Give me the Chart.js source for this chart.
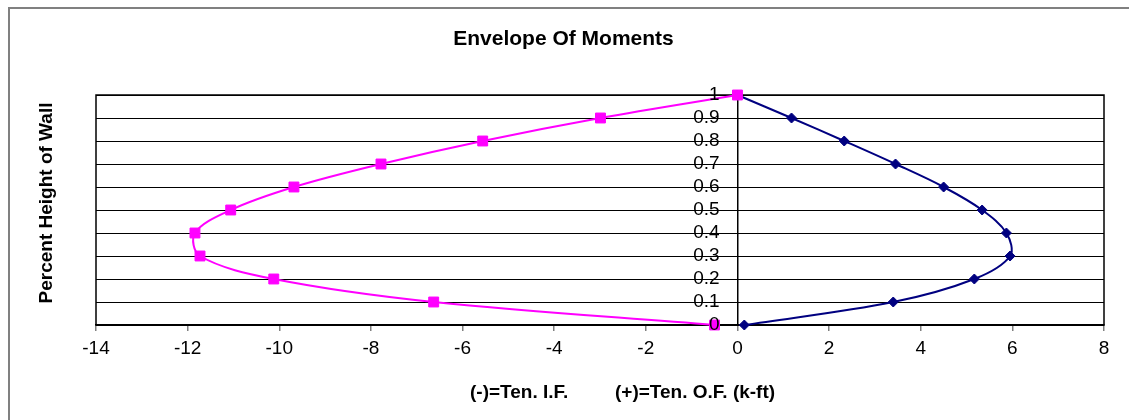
<!DOCTYPE html>
<html>
<head>
<meta charset="utf-8">
<script src="https://cdn.jsdelivr.net/npm/chart.js@4/dist/chart.umd.min.js"></script>
<style>
  html, body { margin: 0; padding: 0; background: #fff; }
  #wrap { width: 1129px; height: 420px; }
</style>
</head>
<body>
<div id="wrap"><canvas id="c" width="1129" height="420"></canvas></div>
<script>
// ---- data ----
const heights = [0, 0.1, 0.2, 0.3, 0.4, 0.5, 0.6, 0.7, 0.8, 0.9, 1];
const tensionInside = [-0.5, -6.63, -10.12, -11.73, -11.84, -11.06, -9.68, -7.78, -5.56, -2.99, 0];
const tensionOutside = [0.15, 3.40, 5.17, 5.95, 5.87, 5.34, 4.50, 3.45, 2.33, 1.18, 0];
const chartTitle = "Envelope Of Moments";
const yTitle = "Percent Height of Wall";
const xTitleLeft = "(-)=Ten. I.F.";
const xTitleRight = "(+)=Ten. O.F. (k-ft)";

const FONT = "'Liberation Sans', Arial, sans-serif";

const decor = {
  id: 'decor',
  beforeDraw(chart) {
    const ctx = chart.ctx;
    ctx.save();
    ctx.strokeStyle = '#808080';
    ctx.lineWidth = 2;
    ctx.beginPath();
    ctx.moveTo(9, 430); ctx.lineTo(9, 8); ctx.lineTo(1140, 8);
    ctx.stroke();
    ctx.restore();
  },
  beforeDatasetsDraw(chart) {
    const ctx = chart.ctx;
    const a = chart.chartArea;
    ctx.save();
    ctx.strokeStyle = '#000';
    ctx.lineWidth = 1.5;
    ctx.strokeRect(a.left, a.top, a.right - a.left, a.bottom - a.top);
    ctx.restore();
  },
  afterDraw(chart) {
    const ctx = chart.ctx;
    ctx.save();
    ctx.fillStyle = '#000';
    ctx.textBaseline = 'alphabetic';
    ctx.font = "bold 21px " + FONT;
    ctx.textAlign = 'center';
    ctx.fillText(chartTitle, 563.5, 45);
    ctx.font = "bold 19px " + FONT;
    ctx.textAlign = 'left';
    ctx.fillText(xTitleLeft, 470, 398);
    ctx.fillText(xTitleRight, 615, 398);
    ctx.translate(52, 203);
    ctx.rotate(-Math.PI / 2);
    ctx.textAlign = 'center';
    ctx.fillText(yTitle, 0, 0);
    ctx.restore();
  }
};

new Chart(document.getElementById('c'), {
  type: 'scatter',
  data: {
    datasets: [
      {
        data: heights.map((h, i) => ({x: tensionInside[i], y: h})),
        borderColor: '#FF00FF',
        backgroundColor: '#FF00FF',
        borderWidth: 2,
        showLine: true,
        tension: 0.35,
        clip: false,
        pointStyle: 'rect',
        pointRadius: 7,
        pointBorderWidth: 1,
        pointHoverRadius: 7
      },
      {
        data: heights.map((h, i) => ({x: tensionOutside[i], y: h})),
        borderColor: '#000080',
        backgroundColor: '#000080',
        borderWidth: 2,
        showLine: true,
        tension: 0.35,
        clip: false,
        pointStyle: 'rectRot',
        pointRadius: 5,
        pointBorderWidth: 1,
        pointHoverRadius: 5
      }
    ]
  },
  options: {
    responsive: false,
    animation: false,
    events: [],
    layout: { padding: { left: 96, right: 25, top: 95, bottom: 0 } },
    plugins: { legend: { display: false }, tooltip: { enabled: false }, title: { display: false } },
    scales: {
      x: {
        type: 'linear',
        position: 'bottom',
        min: -14, max: 8,
        afterFit: (s) => { s.height = 95; },
        ticks: { stepSize: 2, color: '#000', font: { family: FONT, size: 19 }, padding: 6, maxRotation: 0, autoSkip: false },
        grid: {
          drawOnChartArea: true,
          color: (c) => (c.tick && c.tick.value === 0 ? '#000' : 'rgba(0,0,0,0)'),
          lineWidth: 1.5,
          tickColor: '#808080',
          tickLength: 6,
          tickWidth: 1.5
        },
        border: { display: true, color: '#000', width: 1.5 }
      },
      y: {
        type: 'linear',
        position: { x: -0.39 },
        min: 0, max: 1,
        ticks: { display: false, stepSize: 0.1, autoSkip: false },
        grid: { color: '#000', lineWidth: 1, drawTicks: false },
        border: { display: false }
      },
      yLabels: {
        type: 'linear',
        axis: 'y',
        position: { x: -0.39 },
        min: 0, max: 1,
        ticks: { z: 1, stepSize: 0.1, autoSkip: false, color: '#000', font: { family: FONT, size: 19 }, padding: 0,
                 callback: (v) => String(Math.round(v * 10) / 10) },
        grid: { display: false, drawTicks: false },
        border: { display: false }
      }
    }
  },
  plugins: [decor]
});
</script>
</body>
</html>
